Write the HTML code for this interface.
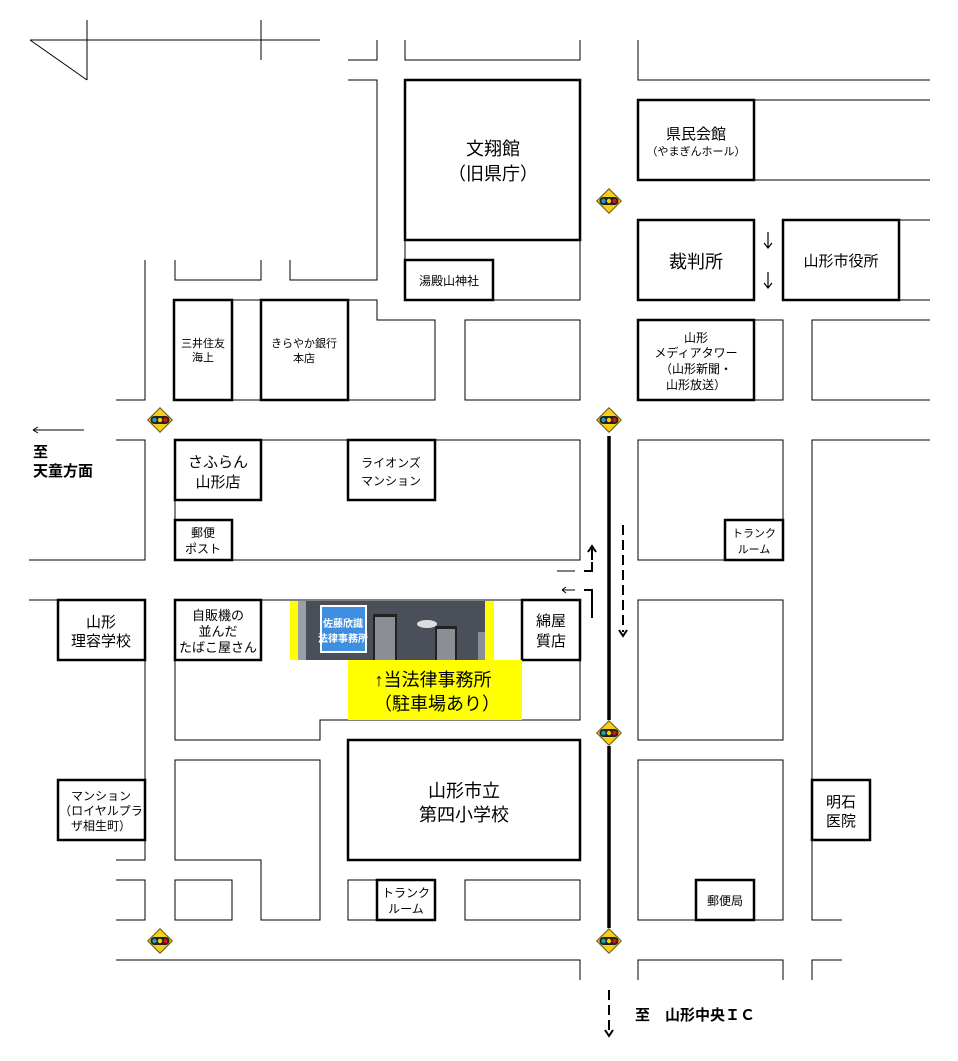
<!DOCTYPE html>
<html><head><meta charset="utf-8"><style>
html,body{margin:0;padding:0;background:#fff;}
svg{display:block;}
text{font-family:"Liberation Sans","Noto Sans CJK JP",sans-serif;fill:#000;}
</style></head><body>
<svg width="958" height="1061" viewBox="0 0 958 1061" xmlns="http://www.w3.org/2000/svg">
<defs>
<g id="sig">
<polygon points="0,-13 13,0 0,13 -13,0" fill="#6b5a10"/>
<polygon points="0,-11.5 11.5,0 0,11.5 -11.5,0" fill="#f5cf1a"/>
<rect x="-9.5" y="-4" width="19" height="8" rx="4" fill="#222"/>
<circle cx="-5.5" cy="0" r="2.2" fill="#1aa0c0"/>
<circle cx="0" cy="0" r="2.2" fill="#f5d000"/>
<circle cx="5.5" cy="0" r="2.2" fill="#e01010"/>
</g>
</defs>
<g fill="none" stroke="#000" stroke-width="1">
<path d="M30,40H320M87,20V80M261,20V60M30,40L87,80"/>
<path d="M348,60H377V40M348,80H377V280H290V260M175,260V280H261V260M145,260V400H116"/>
<path d="M405,40V60H580V40M405,240V260M580,240V300H493"/>
<path d="M232,300H261M348,300H377V320H435V400H174"/>
<rect x="465" y="320" width="115" height="80"/>
<path d="M638,40V80H930M754,100H930M754,180H930M899,220H930M899,300H930"/>
<path d="M754,320H783V400H754M930,320H812V400H930"/>
<path d="M116,440H145V560H29M261,440H348M435,440H580V560H232M175,500V520"/>
<path d="M638,440H783V560H638ZM930,440H812V920H842"/>
<path d="M29,600H58M145,660V780M145,840V860H116M261,600H522M175,660V740H320V720H580V600"/>
<path d="M175,760H320V920H261V860H175Z"/>
<path d="M116,880H145V920H116"/>
<rect x="175" y="880" width="57" height="40"/>
<rect x="348" y="880" width="29" height="40"/>
<rect x="465" y="880" width="115" height="40"/>
<rect x="638" y="600" width="145" height="140"/>
<rect x="638" y="760" width="145" height="160"/>
<path d="M580,980V960H116M638,980V960H783V980M812,980V960H842"/>
<path d="M33,430H84M33,430l5,-3M33,430l5,3"/>
</g>
<g fill="#fff" stroke="#000" stroke-width="2.5">
<rect x="405" y="80" width="175" height="160"/>
<rect x="405" y="260" width="88" height="40"/>
<rect x="174" y="300" width="58" height="100"/>
<rect x="261" y="300" width="87" height="100"/>
<rect x="638" y="100" width="116" height="80"/>
<rect x="638" y="220" width="116" height="80"/>
<rect x="783" y="220" width="116" height="80"/>
<rect x="638" y="320" width="116" height="80"/>
<rect x="175" y="440" width="86" height="60"/>
<rect x="348" y="440" width="87" height="60"/>
<rect x="175" y="520" width="57" height="40"/>
<rect x="725" y="520" width="58" height="40"/>
<rect x="58" y="600" width="87" height="60"/>
<rect x="175" y="600" width="86" height="60"/>
<rect x="522" y="600" width="58" height="60"/>
<rect x="58" y="780" width="87" height="60"/>
<rect x="348" y="740" width="232" height="120"/>
<rect x="377" y="880" width="58" height="40"/>
<rect x="696" y="880" width="58" height="40"/>
<rect x="812" y="780" width="58" height="60"/>
</g>
<path d="M609,436V720M609,746V928" stroke="#000" stroke-width="3.5"/>
<g stroke="#000" stroke-width="2" fill="none">
<path d="M623,525V632" stroke-dasharray="10,5"/>
<path d="M619,630l4,6l4,-6"/>
<path d="M592,618V590H584M584,571H592V562"/>
<path d="M592,547V560M588,552l4,-6l4,6"/>
<path d="M609,990V1032" stroke-dasharray="10,5"/>
<path d="M605,1030l4,6l4,-6"/>
</g>
<path d="M557,571H575M562,590H575M562,590l4,-3M562,590l4,3" stroke="#000" stroke-width="1" fill="none"/>
<g stroke="#000" stroke-width="1.2" fill="none">
<path d="M768,232V248M764,243l4,5l4,-5"/>
<path d="M768,272V288M764,283l4,5l4,-5"/>
</g>
<use href="#sig" x="160" y="420"/>
<use href="#sig" x="609" y="201"/>
<use href="#sig" x="609" y="420"/>
<use href="#sig" x="609" y="733"/>
<use href="#sig" x="160" y="941"/>
<use href="#sig" x="609" y="941"/>
<rect x="290" y="601" width="204" height="59" fill="#ffff00"/>
<rect x="298" y="601" width="187" height="59" fill="#4a4f5a"/>
<rect x="298" y="601" width="8" height="59" fill="#9aa0a8"/>
<rect x="320" y="605" width="47" height="48" fill="#fff"/>
<rect x="322" y="607" width="43" height="44" fill="#3f8fe0"/>
<text x="343" y="627" font-size="10" font-weight="bold" text-anchor="middle" style="fill:#fff">佐藤欣識</text>
<text x="343" y="642" font-size="10" font-weight="bold" text-anchor="middle" style="fill:#fff">法律事務所</text>
<rect x="373" y="614" width="24" height="46" fill="#222"/>
<rect x="375" y="617" width="20" height="43" fill="#8a8f96"/>
<rect x="435" y="626" width="22" height="34" fill="#222"/>
<rect x="437" y="629" width="18" height="31" fill="#8a8f96"/>
<rect x="478" y="632" width="7" height="28" fill="#8a8f96"/>
<ellipse cx="427" cy="624" rx="10" ry="4" fill="#ddd"/>
<rect x="348" y="660" width="174" height="60" fill="#ffff00"/>
<text x="433" y="686" font-size="18" text-anchor="middle">↑当法律事務所</text>
<text x="437" y="710" font-size="18" text-anchor="middle">（駐車場あり）</text>
<g text-anchor="middle">
<text x="493" y="155" font-size="18">文翔館</text>
<text x="493" y="180" font-size="18">（旧県庁）</text>
<text x="449" y="285" font-size="12">湯殿山神社</text>
<text x="203" y="347" font-size="11">三井住友</text>
<text x="203" y="361" font-size="11">海上</text>
<text x="304" y="347" font-size="11">きらやか銀行</text>
<text x="304" y="362" font-size="11">本店</text>
<text x="696" y="139" font-size="15">県民会館</text>
<text x="696" y="155" font-size="11">（やまぎんホール）</text>
<text x="696" y="268" font-size="18">裁判所</text>
<text x="841" y="266" font-size="15">山形市役所</text>
<text x="696" y="342" font-size="12">山形</text>
<text x="696" y="357" font-size="12">メディアタワー</text>
<text x="696" y="373" font-size="12">（山形新聞・</text>
<text x="696" y="389" font-size="12">山形放送）</text>
<text x="218" y="467" font-size="15">さふらん</text>
<text x="218" y="487" font-size="15">山形店</text>
<text x="391" y="467" font-size="12">ライオンズ</text>
<text x="391" y="485" font-size="12">マンション</text>
<text x="203" y="537" font-size="12">郵便</text>
<text x="203" y="553" font-size="12">ポスト</text>
<text x="754" y="537" font-size="11">トランク</text>
<text x="754" y="553" font-size="11">ルーム</text>
<text x="101" y="627" font-size="15">山形</text>
<text x="101" y="646" font-size="15">理容学校</text>
<text x="218" y="620" font-size="13">自販機の</text>
<text x="218" y="636" font-size="13">並んだ</text>
<text x="218" y="652" font-size="13">たばこ屋さん</text>
<text x="551" y="626" font-size="15">綿屋</text>
<text x="551" y="646" font-size="15">質店</text>
<text x="464" y="797" font-size="18">山形市立</text>
<text x="464" y="821" font-size="18">第四小学校</text>
<text x="101" y="800" font-size="12">マンション</text>
<text x="101" y="815" font-size="12">（ロイヤルプラ</text>
<text x="101" y="830" font-size="12">ザ相生町）</text>
<text x="406" y="897" font-size="12">トランク</text>
<text x="406" y="913" font-size="12">ルーム</text>
<text x="725" y="905" font-size="12">郵便局</text>
<text x="841" y="807" font-size="15">明石</text>
<text x="841" y="826" font-size="15">医院</text>
</g>
<text x="33" y="457" font-size="15" font-weight="bold">至</text>
<text x="33" y="476" font-size="15" font-weight="bold">天童方面</text>
<text x="635" y="1020" font-size="15" font-weight="bold">至　山形中央ＩＣ</text>
</svg>
</body></html>
